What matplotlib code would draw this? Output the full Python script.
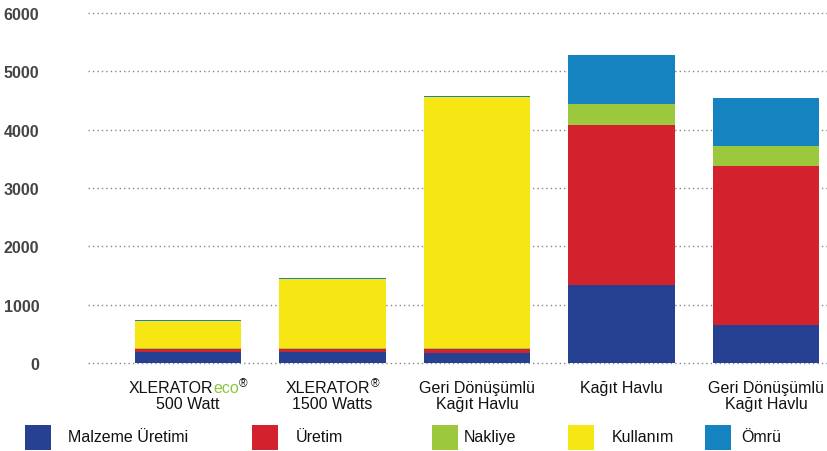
import matplotlib
matplotlib.use("Agg")
import matplotlib.pyplot as plt
from matplotlib.transforms import blended_transform_factory
from matplotlib.offsetbox import TextArea, HPacker, VPacker, DrawingArea, AnnotationBbox
from matplotlib.patches import Rectangle

plt.rcParams['font.family'] = ['Liberation Sans', 'DejaVu Sans']

categories_line1 = ["XLERATOR", "XLERATOR", "Geri Dönüşümlü", "Kağıt Havlu", "Geri Dönüşümlü"]
categories_line2 = ["500 Watt", "1500 Watts", "Kağıt Havlu", "", "Kağıt Havlu"]
series_names = ["Malzeme Üretimi", "Üretim", "Nakliye", "Kullanım", "Ömrü"]
malzeme = [190, 190, 175, 1342, 645]
uretim = [55, 55, 65, 2732, 2726]
nakliye = [8, 8, 10, 371, 354]
kullanim = [470, 1182, 4315, 0, 0]
omru = [14, 14, 15, 828, 818]
yticks = [0, 1000, 2000, 3000, 4000, 5000, 6000]

colors = ["#264191", "#d3222d", "#9bc83c", "#f5e614", "#1683c1"]
series = [malzeme, uretim, nakliye, kullanim, omru]

fig = plt.figure(figsize=(8.27, 4.52), dpi=100)
ax = fig.add_axes([88/827, 1-364/452, 1-88/827, 350/452])
x = list(range(len(categories_line1)))
bottom = [0]*len(x)
for vals, c in zip(series, colors):
    ax.bar(x, vals, bottom=bottom, width=0.734, color=c, zorder=3, linewidth=0)
    bottom = [b+v for b, v in zip(bottom, vals)]

ax.set_xlim(-0.692, 4.422)
ax.set_ylim(0, 6000)
ax.set_yticks(yticks)
ax.set_yticklabels([str(t) for t in yticks], fontsize=11.5, color="#444444",
                   fontweight="bold")
ax.tick_params(axis='y', length=0, pad=35)
ax.set_xticks([])
for s in ax.spines.values():
    s.set_visible(False)
for t in yticks:
    ax.axhline(t, color="#888888", linestyle=(0, (1, 2.2)), linewidth=1.0, zorder=1, clip_on=False)

tr = blended_transform_factory(ax.transData, fig.transFigure)
y1 = 1 - 389/452
y2 = 1 - 405/452
fs = 11.5
for i in x:
    if i < 2:
        parts = [TextArea("XLERATOR", textprops=dict(fontsize=fs, color="#111111"))]
        if i == 0:
            parts.append(TextArea("eco", textprops=dict(fontsize=fs, color="#8cc63f")))
        reg = VPacker(children=[TextArea("®", textprops=dict(fontsize=8.5, color="#111111")),
                                DrawingArea(1, 4)], align="left", pad=0, sep=0)
        parts.append(reg)
        pk = HPacker(children=parts, align="bottom", pad=0, sep=0)
        ab = AnnotationBbox(pk, (i, y1), xycoords=tr, frameon=False, box_alignment=(0.5, 0.4), pad=0)
        ax.add_artist(ab)
    else:
        ax.text(i, y1, categories_line1[i], transform=tr, ha="center", va="center", fontsize=fs, color="#111111")
    if categories_line2[i]:
        ax.text(i, y2, categories_line2[i], transform=tr, ha="center", va="center", fontsize=fs, color="#111111")

# legend
sq_x = [25, 252, 432, 568, 705]
tx_x = [68, 296, 464, 612, 741]
for name, c, sx, tx in zip(series_names, colors, sq_x, tx_x):
    fig.patches.append(Rectangle((sx/827, 1-451/452), 26/827, 25/452, transform=fig.transFigure,
                                 facecolor=c, edgecolor="none"))
    fig.text(tx/827, 1-438/452, name, ha="left", va="center", fontsize=fs, color="#111111")

fig.savefig("out.png", dpi=100)
